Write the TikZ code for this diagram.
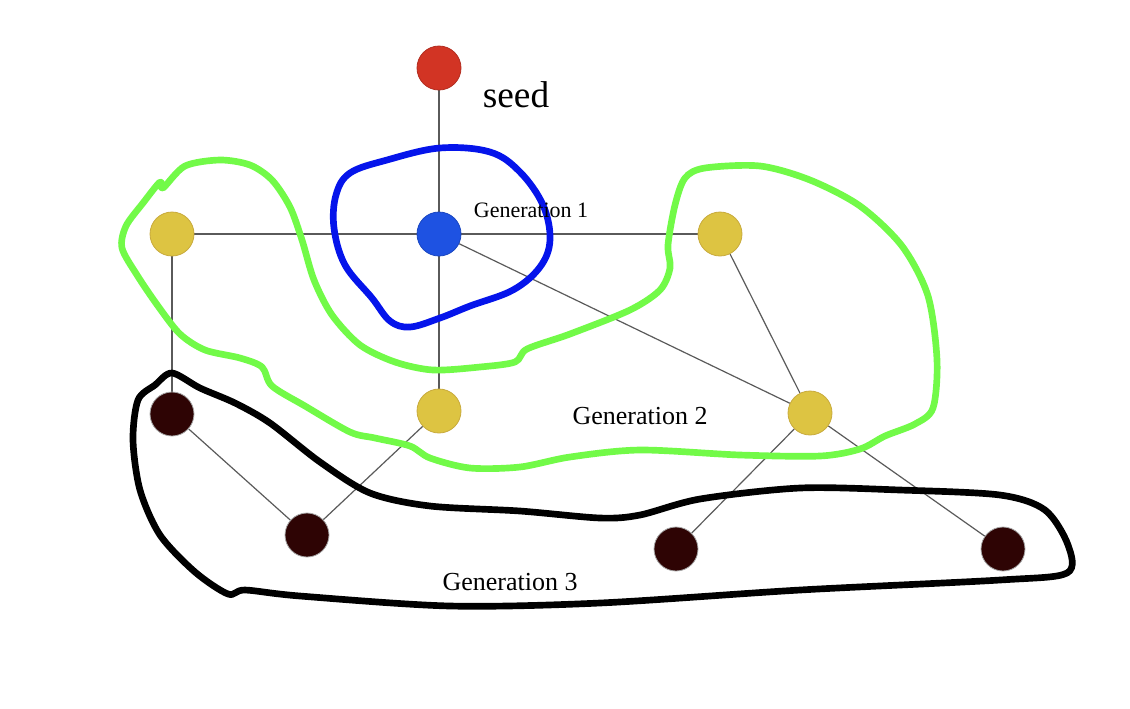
\documentclass[tikz,border=0pt]{standalone}
\usepackage{fontspec}
\setmainfont{Liberation Serif}
\usetikzlibrary{backgrounds}

\definecolor{seedred}{RGB}{210,52,36}
\definecolor{genblue}{RGB}{30,82,226}
\definecolor{genyellow}{RGB}{221,196,66}
\definecolor{genyellowrim}{RGB}{200,170,60}
\definecolor{gendark}{RGB}{46,4,4}
\definecolor{edgegray}{RGB}{90,90,90}
\definecolor{loopblue}{RGB}{5,20,235}
\definecolor{loopgreen}{RGB}{114,250,72}

\tikzset{
  vtx/.style={circle,minimum size=33pt,inner sep=0pt,line width=0.6pt},
  seedvtx/.style={vtx,fill=seedred,draw=seedred!85!black},
  bluevtx/.style={vtx,fill=genblue,draw=genblue!85!black},
  yellowvtx/.style={vtx,fill=genyellow,draw=genyellowrim},
  darkvtx/.style={vtx,fill=gendark,draw=gray!70},
  link/.style={draw=edgegray,line width=0.9pt},
  hand/.style={line width=5pt,line cap=round,line join=round}
}

\begin{document}
\begin{tikzpicture}[x=0.75pt,y=0.75pt,yscale=-1]
\useasboundingbox (0,0) rectangle (1130,708);

% Nodes
\node [seedvtx] (seed) at (439,68) {};
\node [bluevtx] (g1) at (439,234) {};
\node [yellowvtx] (g2a) at (172,234) {};
\node [yellowvtx] (g2b) at (720,234) {};
\node [yellowvtx] (g2c) at (439,411) {};
\node [yellowvtx] (g2d) at (810,413) {};
\node [darkvtx] (g3a) at (172,414) {};
\node [darkvtx] (g3b) at (307,535) {};
\node [darkvtx] (g3c) at (676,549) {};
\node [darkvtx] (g3d) at (1003,549) {};

% Edges
\begin{scope}[on background layer]
\draw [link] (seed) -- (g1);
\draw [link] (g2a) -- (g1);
\draw [link] (g1) -- (g2b);
\draw [link] (g1) -- (g2c);
\draw [link] (g1) -- (g2d);
\draw [link] (g2b) -- (g2d);
\draw [link] (g2a) -- (g3a);
\draw [link] (g3a) -- (g3b);
\draw [link] (g2c) -- (g3b);
\draw [link] (g2d) -- (g3c);
\draw [link] (g2d) -- (g3d);
\end{scope}

% Generation 1 loop
\draw [hand,loopblue] plot [smooth cycle,tension=0.6] coordinates {(440,148) (387,160) (350,173) (336,195) (334,228) (345,265) (372,298) (390,321) (410,327) (440,318) (470,306) (513,290) (540,267) (550,240) (543,205) (520,172) (490,152)};

% Generation 2 loop
\draw [hand,loopgreen] plot [smooth cycle,tension=0.5] coordinates {(163,188) (185,166) (220,160) (250,165) (272,180) (290,207) (302,240) (314,280) (332,315) (360,345) (395,362) (433,370) (480,367) (515,362) (527,349) (570,334) (630,310) (660,290) (670,268) (668,245) (675,205) (685,178) (705,168) (760,166) (810,180) (860,206) (902,246) (928,296) (937,360) (933,408) (915,424) (885,436) (860,449) (820,456) (740,455) (640,450) (570,457) (520,467) (470,468) (430,458) (410,446) (375,438) (350,432) (305,406) (272,386) (262,367) (240,358) (205,350) (180,334) (158,306) (137,275) (122,248) (126,226) (143,203) (160,182)};

% Generation 3 loop
\draw [hand,black] plot [smooth cycle,tension=0.5] coordinates {(172,373) (200,388) (235,403) (270,423) (320,462) (370,493) (430,506) (520,511) (600,518) (640,515) (700,499) (800,488) (900,490) (1000,495) (1045,510) (1068,545) (1067,573) (1000,580) (800,590) (600,603) (450,606) (300,596) (245,590) (228,594) (195,572) (160,535) (140,490) (133,440) (138,400) (155,385)};

% Text Node
\node [font=\fontsize{28}{32}\selectfont] (seedlbl) at (516,95) {seed};
% Text Node
\node [font=\fontsize{16.5}{19}\selectfont] (gen1lbl) at (531,210) {Generation 1};
% Text Node
\node [font=\fontsize{19.5}{22}\selectfont] (gen2lbl) at (640,416) {Generation 2};
% Text Node
\node [font=\fontsize{19.5}{22}\selectfont] (gen3lbl) at (510,582) {Generation 3};

\end{tikzpicture}
\end{document}
